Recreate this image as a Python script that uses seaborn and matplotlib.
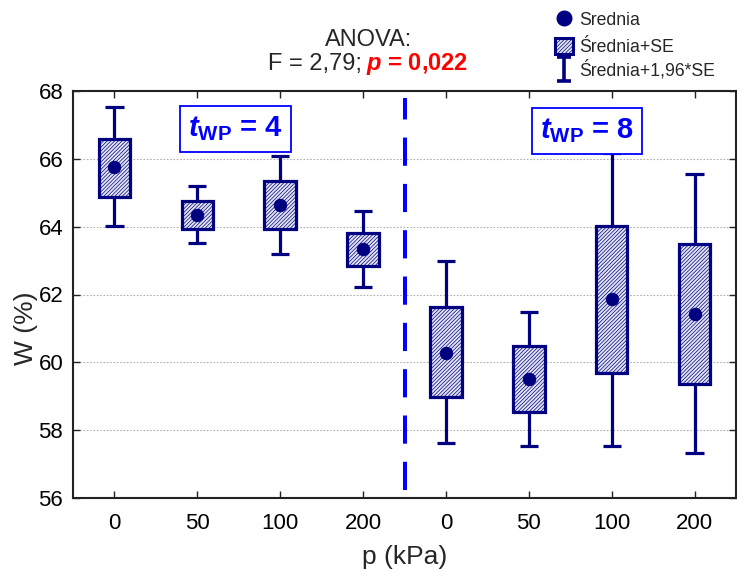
import numpy as np
import pandas as pd
import matplotlib
matplotlib.use("Agg")
import matplotlib.pyplot as plt
import seaborn as sns
from matplotlib.lines import Line2D
from matplotlib.patches import Rectangle
from matplotlib.path import Path

# ---- data ----
groups = ["4", "4", "4", "4", "8", "8", "8", "8"]
pressure = ["0", "50", "100", "200", "0", "50", "100", "200"]
means = [65.76, 64.34, 64.64, 63.34, 60.27, 59.50, 61.86, 61.42]
se_low = [64.87, 63.93, 63.93, 62.84, 58.99, 58.54, 59.69, 59.36]
se_high = [66.58, 64.76, 65.35, 63.81, 61.64, 60.48, 64.02, 63.49]
ci_low = [64.02, 63.52, 63.19, 62.22, 57.63, 57.53, 57.53, 57.34]
ci_high = [67.53, 65.20, 66.08, 64.46, 63.00, 61.49, 66.18, 65.55]
yticks = [56, 58, 60, 62, 64, 66, 68]
legend_labels = ["Srednia", "Średnia+SE", "Średnia+1,96*SE"]

df = pd.DataFrame({"pos": np.arange(len(means)), "label": pressure, "mean": means,
                   "se_low": se_low, "se_high": se_high,
                   "ci_low": ci_low, "ci_high": ci_high, "grp": groups})

sns.set_theme(style="white")
plt.rcParams["font.family"] = ["Liberation Sans", "DejaVu Sans"]
plt.rcParams["mathtext.fontset"] = "custom"
plt.rcParams["mathtext.rm"] = "Liberation Sans"
plt.rcParams["mathtext.it"] = "Liberation Sans:italic"
plt.rcParams["mathtext.bf"] = "Liberation Sans:bold"
plt.rcParams["mathtext.bfit"] = "Liberation Sans:italic:bold"
plt.rcParams["hatch.linewidth"] = 0.5
plt.rcParams["hatch.color"] = "#000080"

navy = "#000080"
blue = "#0000ff"
HATCH = "/////////"
FACE = "#e2e4f1"

fig = plt.figure(figsize=(7.37, 5.71), dpi=100)
ax = fig.add_axes([73/737, 1-498/571, 663/737, (498-91)/571])

# boxes (mean +/- SE)
ax.bar(df["pos"], df["se_high"] - df["se_low"], bottom=df["se_low"], width=0.38,
       facecolor=FACE, edgecolor=navy, linewidth=2.3, hatch=HATCH, zorder=3)
# whiskers (mean +/- 1.96 SE)
ax.vlines(df["pos"], df["ci_low"], df["se_low"], color=navy, lw=2.3, zorder=2)
ax.vlines(df["pos"], df["se_high"], df["ci_high"], color=navy, lw=2.3, zorder=2)
ax.hlines(df["ci_low"], df["pos"] - 0.11, df["pos"] + 0.11, color=navy, lw=2.3, zorder=2)
ax.hlines(df["ci_high"], df["pos"] - 0.11, df["pos"] + 0.11, color=navy, lw=2.3, zorder=2)
# means
sns.scatterplot(data=df, x="pos", y="mean", color=navy, s=80, edgecolor=navy,
                zorder=4, ax=ax, legend=False)

ax.set_xlim(-0.5, 7.5)
ax.set_ylim(56, 68)
ax.set_xticks(df["pos"])
ax.set_xticklabels(df["label"])
ax.set_yticks(yticks)
ax.tick_params(axis="both", labelsize=16, direction="in", length=5, width=1,
               top=True, bottom=True, left=True, right=True, colors="#222222",
               labelcolor="black")
ax.tick_params(axis="x", pad=11)
ax.tick_params(axis="y", pad=7)
for y in yticks[1:-1]:
    ax.axhline(y, color="#b0b0b0", lw=0.8, ls=(0, (1.5, 1.5)), zorder=0)
for s in ax.spines.values():
    s.set_color("#222222")
    s.set_linewidth(1.5)
ax.set_xlabel("p (kPa)", fontsize=19, labelpad=8)
ax.set_ylabel("W (%)", fontsize=19)
ax.yaxis.set_label_coords(-0.053, 0.418)

# separator
ax.plot([3.5, 3.5], [56.24, 67.8], color=blue, lw=2.9, ls=(0, (7, 4.5)), zorder=1)

# tWP boxes
bbox = dict(boxstyle="square,pad=0.28", facecolor="white", edgecolor=blue, lw=1.3)
ax.text(1.46, 66.88, r"$\mathbfit{t}_{\mathbf{WP}}$ = 4", color=blue, fontweight="bold",
        fontsize=21, ha="center", va="center", bbox=bbox, zorder=5)
ax.text(5.7, 66.82, r"$\mathbfit{t}_{\mathbf{WP}}$ = 8", color=blue, fontweight="bold",
        fontsize=21, ha="center", va="center", bbox=bbox, zorder=5)

# title
fig.text(369/737, 1-46/571, "ANOVA:", fontsize=17, ha="center", va="baseline")
fig.text(362/737, 1-70/571, "F = 2,79;", fontsize=17, ha="right", va="baseline")
fig.text(366/737, 1-70/571, r"$\mathbfit{p}$ = 0,022", fontsize=17, fontweight="bold",
         ha="left", va="baseline", color="red")

# legend (one entry per row, placed like the original)
ibeam = Path([(-0.6, 1), (0.6, 1), (0, 1), (0, -1), (-0.6, -1), (0.6, -1)],
             [Path.MOVETO, Path.LINETO, Path.MOVETO, Path.LINETO, Path.MOVETO, Path.LINETO])
handles = [
    Line2D([], [], marker="o", color=navy, ls="none", markersize=10.5),
    Rectangle((0, 0), 1, 1, facecolor=FACE, edgecolor=navy, hatch=HATCH, lw=2.2),
    Line2D([], [], marker=ibeam, color=navy, ls="none", markersize=17,
           markeredgewidth=2.6, markerfacecolor="none"),
]
row_y = [20, 47, 70]
for h, lab, yy in zip(handles, legend_labels, row_y):
    leg = fig.legend([h], [lab], loc="center left", bbox_to_anchor=(555/737, 1-yy/571),
                     frameon=False, fontsize=12.7, handlelength=1.0, handleheight=1.0,
                     handletextpad=0.36, borderpad=0, borderaxespad=0)

fig.savefig("out.png", dpi=100)
